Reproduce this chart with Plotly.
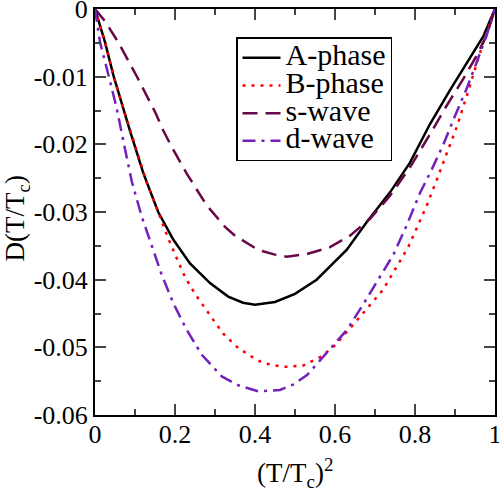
import plotly.graph_objects as go

# A-phase
a_x = [0, 0.025, 0.046, 0.071, 0.0875, 0.121, 0.158, 0.196, 0.2375, 0.2875, 0.333, 0.37, 0.4, 0.45, 0.5, 0.554, 0.629, 0.679, 0.7375, 0.7875, 0.8375, 0.8875, 0.929, 0.971, 1.0]
a_y = [0, -0.0049, -0.0098, -0.0148, -0.0180, -0.0243, -0.0300, -0.0341, -0.0376, -0.0405, -0.0425, -0.0434, -0.0437, -0.0433, -0.0421, -0.0400, -0.0356, -0.0315, -0.0271, -0.0227, -0.0170, -0.0120, -0.0080, -0.0040, 0]

# B-phase
b_x = [0, 0.025, 0.046, 0.071, 0.092, 0.129, 0.158, 0.183, 0.204, 0.225, 0.25, 0.275, 0.3, 0.321, 0.358, 0.4, 0.42, 0.47, 0.52, 0.5675, 0.6, 0.655, 0.72, 0.783, 0.804, 0.829, 0.854, 0.879, 0.904, 0.929, 0.954, 0.975, 1.0]
b_y = [0, -0.0049, -0.0098, -0.0148, -0.0186, -0.0256, -0.0300, -0.0339, -0.0368, -0.0396, -0.0421, -0.0443, -0.0463, -0.0480, -0.0501, -0.0517, -0.0523, -0.0529, -0.0527, -0.0513, -0.0497, -0.0460, -0.0415, -0.0352, -0.0325, -0.0291, -0.0253, -0.0215, -0.0175, -0.0129, -0.0083, -0.0041, 0]

# s-wave
s_x = [0, 0.025, 0.058, 0.104, 0.15, 0.171, 0.192, 0.229, 0.279, 0.325, 0.35, 0.408, 0.45, 0.48, 0.53, 0.5875, 0.6375, 0.6875, 0.7375, 0.7875, 0.8375, 0.879, 0.921, 0.954, 0.979, 1.0]
s_y = [0, -0.0018, -0.0049, -0.0099, -0.0152, -0.0180, -0.0204, -0.0243, -0.0290, -0.0322, -0.0335, -0.0356, -0.0363, -0.0366, -0.0362, -0.0352, -0.0335, -0.0310, -0.0276, -0.0234, -0.0185, -0.0143, -0.0103, -0.0069, -0.0039, 0]

# d-wave
d_x = [0, 0.0125, 0.033, 0.054, 0.067, 0.092, 0.117, 0.142, 0.167, 0.196, 0.229, 0.267, 0.317, 0.358, 0.408, 0.4625, 0.495, 0.53, 0.58, 0.63, 0.67, 0.7075, 0.746, 0.779, 0.8125, 0.842, 0.871, 0.9, 0.929, 0.954, 0.979, 1.0]
d_y = [0, -0.0049, -0.0096, -0.0146, -0.0184, -0.0255, -0.0307, -0.0351, -0.0393, -0.0435, -0.0474, -0.0511, -0.0543, -0.0556, -0.0565, -0.0563, -0.0555, -0.0541, -0.0508, -0.0474, -0.0437, -0.0400, -0.0363, -0.0320, -0.0272, -0.0237, -0.0200, -0.0158, -0.0118, -0.0079, -0.0039, 0]

series_names = ["A-phase", "B-phase", "s-wave", "d-wave"]

x_ticks = [0, 0.2, 0.4, 0.6, 0.8, 1.0]
x_labels = ["0", "0.2", "0.4", "0.6", "0.8", "1"]
y_ticks = [0, -0.01, -0.02, -0.03, -0.04, -0.05, -0.06]
y_labels = ["0", "-0.01", "-0.02", "-0.03", "-0.04", "-0.05", "-0.06"]

FONT = "Liberation Serif"


def legend_name(s):
    return ('<span style="font-family:Liberation Serif;font-size:30px">' + s + '</span>')


fig = go.Figure()
fig.add_trace(go.Scatter(x=a_x, y=a_y, mode="lines", name=legend_name(series_names[0]),
                         line=dict(color="black", width=2.5)))
fig.add_trace(go.Scatter(x=b_x, y=b_y, mode="lines", name=legend_name(series_names[1]),
                         line=dict(color="#ff0000", width=2.5, dash="3px,6px")))
fig.add_trace(go.Scatter(x=s_x, y=s_y, mode="lines", name=legend_name(series_names[2]),
                         line=dict(color="#670748", width=2.5, dash="15px,8px")))
fig.add_trace(go.Scatter(x=d_x, y=d_y, mode="lines", name=legend_name(series_names[3]),
                         line=dict(color="#7221bc", width=2.5, dash="13px,6px,3px,6px")))

axis_common = dict(showline=True, linecolor="black", linewidth=2, mirror="ticks",
                   ticks="inside", ticklen=11, tickwidth=1.5, tickcolor="#444",
                   showgrid=False, zeroline=False, ticklabeloverflow="allow",
                   automargin=False,
                   tickfont=dict(family=FONT, size=26, color="black"))

fig.update_xaxes(range=[0, 1], tickvals=x_ticks, ticktext=x_labels, ticklabelstandoff=-5,
                 minor=dict(dtick=0.1, ticks="inside", ticklen=6, tickwidth=1.5, tickcolor="#444", showgrid=False),
                 **axis_common)
fig.update_yaxes(range=[-0.06, 0], tickvals=y_ticks, ticktext=y_labels,
                 minor=dict(dtick=0.005, ticks="inside", ticklen=6, tickwidth=1.5, tickcolor="#444", showgrid=False),
                 **axis_common)

fig.add_annotation(text="(T/T<sub>c</sub>)<sup>2</sup>", xref="paper", yref="paper",
                   x=0.5, y=-0.09, xanchor="center", yanchor="top", showarrow=False,
                   font=dict(family=FONT, size=27, color="black"))
fig.add_annotation(text="D(T/T<sub>c</sub>)", xref="paper", yref="paper",
                   x=-0.194, y=0.485, xanchor="center", yanchor="middle", showarrow=False,
                   textangle=-90, font=dict(family=FONT, size=27, color="black"))

fig.update_layout(
    width=499, height=493,
    margin=dict(l=95, r=4, t=9, b=78, autoexpand=False),
    plot_bgcolor="white", paper_bgcolor="white",
    font=dict(family=FONT, color="black"),
    showlegend=True,
    legend=dict(x=0.3525, y=0.93, xanchor="left", yanchor="top",
                bgcolor="white", bordercolor="black", borderwidth=1.5,
                font=dict(family=FONT, size=19, color="black"),
                tracegroupgap=0, itemwidth=38),
)

fig.write_html("out.html", post_script="document.body.style.margin='0px';",
               config={"displayModeBar": False})
